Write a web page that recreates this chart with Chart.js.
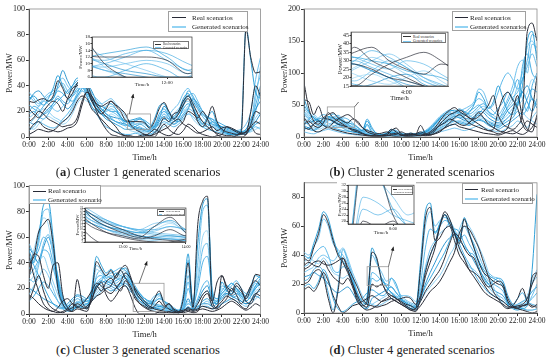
<!DOCTYPE html>
<html><head><meta charset="utf-8">
<script src="https://cdn.jsdelivr.net/npm/chart.js@4.4.0/dist/chart.umd.min.js"></script>
<style>
html,body{margin:0;padding:0;background:#fff;}
#root{position:relative;width:550px;height:361px;overflow:hidden;font-family:'Liberation Serif',serif;color:#222;}
canvas{position:absolute;}
.cap{position:absolute;font-size:12.5px;white-space:nowrap;transform:translate(-50%,-50%);}
.leg{position:absolute;border:1px solid #a0a0a0;background:#fff;box-sizing:border-box;}
.leg .row{display:flex;align-items:center;white-space:nowrap;}
.leg .ln{flex:none;}
.ileg{position:absolute;border:0.5px solid #777;background:#fff;box-sizing:border-box;}
.ileg .row{display:flex;align-items:center;white-space:nowrap;}
</style>
</head><body>
<div id="root">
  <canvas id="ca" width="270" height="165" style="left:0;top:0"></canvas>
  <canvas id="cb" width="275" height="165" style="left:275px;top:0"></canvas>
  <canvas id="cc" width="270" height="165" style="left:0;top:177px"></canvas>
  <canvas id="cd" width="275" height="164" style="left:275px;top:177px"></canvas>
  <canvas id="ia" width="116" height="55" style="left:78px;top:33px"></canvas>
  <canvas id="ib" width="115" height="74" style="left:336px;top:28px"></canvas>
  <canvas id="ic" width="116" height="47" style="left:75px;top:205px"></canvas>
  <canvas id="id" width="79" height="54" style="left:337px;top:182px"></canvas>

  <div class="leg" style="left:168px;top:11px;width:80px;height:21px;font-size:7px;padding:1px 0 0 3px">
    <div class="row" style="height:9px"><span class="ln" style="width:14px;border-top:1.3px solid #272a36;margin-right:6px"></span>Real scenarios</div>
    <div class="row" style="height:9px"><span class="ln" style="width:14px;border-top:2.5px solid #93d3f3;margin-right:6px"></span>Generated scenarios</div>
  </div>
  <div class="leg" style="left:452px;top:11px;width:74px;height:20px;font-size:7px;padding:1px 0 0 2px">
    <div class="row" style="height:9px"><span class="ln" style="width:13px;border-top:1.3px solid #272a36;margin-right:2px"></span>Real scenarios</div>
    <div class="row" style="height:9px"><span class="ln" style="width:13px;border-top:2.5px solid #93d3f3;margin-right:2px"></span>Generated scenarios</div>
  </div>
  <div class="leg" style="left:29px;top:185px;width:72px;height:19px;font-size:7px;padding:1px 0 0 3px">
    <div class="row" style="height:8.5px"><span class="ln" style="width:13px;border-top:1.3px solid #272a36;margin-right:2px"></span>Real scenario</div>
    <div class="row" style="height:8.5px"><span class="ln" style="width:13px;border-top:2.5px solid #93d3f3;margin-right:2px"></span>Generated scenario</div>
  </div>
  <div class="leg" style="left:462px;top:183px;width:71px;height:21px;font-size:7px;padding:1px 0 0 2px">
    <div class="row" style="height:9px"><span class="ln" style="width:13px;border-top:1.3px solid #272a36;margin-right:3px"></span>Real scenario</div>
    <div class="row" style="height:9px"><span class="ln" style="width:13px;border-top:2.5px solid #93d3f3;margin-right:3px"></span>Generated scenario</div>
  </div>

  <div class="ileg" style="left:153px;top:41px;width:36px;height:8px;font-size:3px;padding:0.5px 0 0 1px">
    <div class="row" style="height:3.5px"><span style="width:6px;border-top:0.5px solid #333;margin-right:2px"></span>Real scenarios</div>
    <div class="row" style="height:3.5px"><span style="width:6px;border-top:0.6px solid #7cc8f0;margin-right:2px"></span>Generated scenarios</div>
  </div>
  <div class="ileg" style="left:401px;top:33px;width:45px;height:10px;font-size:3.6px;padding:0.5px 0 0 1px">
    <div class="row" style="height:4.5px"><span style="width:8px;border-top:0.6px solid #333;margin-right:2px"></span>Real scenarios</div>
    <div class="row" style="height:4.5px"><span style="width:8px;border-top:0.7px solid #7cc8f0;margin-right:2px"></span>Generated scenarios</div>
  </div>
  <div class="ileg" style="left:157px;top:209px;width:28px;height:7px;font-size:2.6px;padding:0.3px 0 0 1px">
    <div class="row" style="height:3px"><span style="width:5px;border-top:0.5px solid #333;margin-right:2px"></span>Real scenario</div>
    <div class="row" style="height:3px"><span style="width:5px;border-top:0.6px solid #7cc8f0;margin-right:2px"></span>Generated scenario</div>
  </div>
  <div class="ileg" style="left:391px;top:186px;width:22px;height:9px;font-size:2.5px;padding:0.5px 0 0 1px">
    <div class="row" style="height:3.5px"><span style="width:5px;border-top:0.5px solid #333;margin-right:1px"></span>Real scenario</div>
    <div class="row" style="height:3.5px"><span style="width:5px;border-top:0.6px solid #7cc8f0;margin-right:1px"></span>Generated scenario</div>
  </div>

  <div class="cap" style="left:138px;top:172px">(<b>a</b>) Cluster 1 generated scenarios</div>
  <div class="cap" style="left:412px;top:172px">(<b>b</b>) Cluster 2 generated scenarios</div>
  <div class="cap" style="left:138px;top:350px">(<b>c</b>) Cluster 3 generated scenarios</div>
  <div class="cap" style="left:412px;top:350px">(<b>d</b>) Cluster 4 generated scenarios</div>
</div>
<script>
// ---------------- DATA ----------------
const hours = [0,0.5,1,1.5,2,2.5,3,3.5,4,4.5,5,5.5,6,6.5,7,7.5,8,8.5,9,9.5,10,10.5,11,11.5,12,12.5,13,13.5,14,14.5,15,15.5,16,16.5,17,17.5,18,18.5,19,19.5,20,20.5,21,21.5,22,22.5,23,23.5,24];
const xTicks = [0,2,4,6,8,10,12,14,16,18,20,22,24];

// Cluster 1
const c1Real1 = [28,27,29,30,28,32,44,38,30,34,42,45,38,28,22,18,22,28,24,20,13,12,12,12,11,7,12,22,27,20,14,18,25,30,22,12,8,14,24,12,6,4,3,2,3,84,62,50,51];
const c1Real2 = [5,10,12,8,6,5,4,5,7,8,12,25,35,30,20,12,6,2,1,0,0,0,0,0,0,0,0,5,10,6,3,2,5,10,8,4,2,1,0,1,2,8,7,5,3,2,10,20,18];
const c1Real3 = [22,18,15,20,25,28,26,20,30,38,40,44,42,32,25,20,16,12,8,3,1,0,0,1,2,1,3,8,15,12,18,20,28,32,26,18,12,8,5,3,2,1,1,0,0,2,20,40,32];
const c1Real4 = [12,15,20,18,14,12,10,8,9,10,15,28,35,32,26,24,26,28,25,22,18,10,6,4,2,1,2,4,6,8,12,14,10,8,5,3,4,6,8,5,7,8,6,4,2,4,8,12,10];
const c1Real5 = [2,4,6,5,4,5,8,12,15,20,28,32,30,22,18,14,10,6,4,2,1,1,0,0,1,3,6,4,2,1,3,8,12,20,18,15,20,14,6,2,0,0,0,1,3,4,8,3,2];
const c1Gen1 = [30,32,28,25,30,38,48,40,34,40,46,44,36,28,22,20,24,26,22,16,12,13,14,15,12,8,14,24,26,18,15,20,30,34,24,14,10,15,20,10,5,3,2,2,6,86,60,35,30];
const c1Gen2 = [35,30,26,30,34,36,42,46,40,36,40,48,44,34,30,26,22,20,18,14,10,8,6,5,4,6,10,16,20,18,22,26,34,38,30,24,18,14,10,8,6,5,4,5,6,10,20,45,62];
const c1Gen3 = [20,24,22,18,20,26,32,28,26,32,38,40,34,28,24,22,18,15,12,10,9,10,12,14,11,8,7,12,18,14,10,12,18,22,20,16,12,10,8,6,4,3,2,3,4,6,12,25,40];
const c1Gen4 = [10,14,18,22,20,16,14,12,15,22,30,36,38,30,22,18,20,24,22,18,14,9,6,4,3,4,6,10,14,16,18,22,26,28,22,20,16,12,9,7,5,4,3,2,2,3,8,15,20];
const c1Gen5 = [25,22,20,24,28,30,36,34,30,28,34,42,40,30,24,18,14,12,10,8,6,6,8,10,8,5,8,18,22,16,12,15,22,26,22,16,10,8,12,10,8,6,5,4,3,4,6,10,12];
const c1Gen6 = [15,18,24,28,26,22,20,24,28,34,36,38,36,32,28,26,28,30,26,22,16,12,10,8,6,5,4,6,10,12,14,16,20,24,26,22,18,14,10,8,6,5,4,3,4,5,10,30,55];
const c1Gen7 = [5,8,12,10,8,7,9,14,18,24,32,36,32,24,18,12,8,6,4,3,2,2,3,2,1,2,4,8,12,10,8,10,14,18,16,12,8,6,5,4,3,2,2,1,2,3,5,8,6];
const c1Gen8 = [28,34,36,32,28,30,40,52,44,38,42,40,32,24,20,18,16,14,12,11,10,8,7,6,5,4,6,12,16,14,16,20,28,32,28,22,16,12,10,9,8,7,6,5,4,6,14,22,28];
const c1Gen9 = [8,6,10,14,16,14,12,10,12,18,26,30,28,26,22,18,16,18,16,12,8,5,4,3,2,2,3,5,8,10,12,14,18,20,14,10,8,10,12,8,4,3,3,2,2,3,4,6,8];
const c1Gen10 = [18,20,16,14,18,24,28,32,36,40,44,46,40,30,26,24,22,20,20,16,12,11,13,14,13,10,8,10,14,12,10,14,24,36,32,24,18,15,14,12,10,8,6,5,4,5,8,20,35];
const c1Gen11 = [32,28,24,28,32,34,38,42,36,32,36,40,38,30,26,22,20,22,20,15,10,9,10,11,10,7,9,15,20,16,14,18,26,32,34,28,20,16,14,10,7,5,4,3,3,5,10,35,48];
const c1Gen12 = [12,10,14,18,22,26,30,26,22,26,32,38,42,36,28,22,18,16,15,14,12,10,8,7,6,6,8,14,24,20,14,12,16,22,30,26,20,16,12,9,6,4,3,3,2,3,6,12,18];

// Cluster 2
const c2Real1 = [85,45,25,20,30,35,38,30,25,22,28,25,15,8,5,3,2,3,10,14,5,3,4,5,8,5,8,15,25,35,42,46,40,35,30,28,32,40,50,65,35,20,15,12,18,40,165,178,150];
const c2Real2 = [58,55,35,48,30,28,25,20,18,15,12,10,6,3,2,2,3,5,12,8,3,2,3,4,18,6,4,10,20,28,35,38,42,38,30,25,20,15,10,12,40,62,70,58,45,20,10,40,95];
const c2Real3 = [20,25,18,15,22,38,30,25,20,15,10,8,5,3,2,1,1,2,4,6,3,1,1,2,3,2,3,5,8,15,22,30,35,30,22,18,15,12,10,8,5,8,15,40,65,30,12,8,35];
const c2Real4 = [15,12,20,25,18,15,22,28,32,35,30,22,15,10,8,5,6,8,5,4,8,5,3,4,5,3,6,12,18,22,28,25,20,18,22,30,38,30,20,15,10,8,6,5,8,15,25,20,15];
const c2Real5 = [30,20,10,8,12,15,12,10,8,6,5,4,3,2,1,1,2,3,2,1,2,4,6,3,2,4,3,6,10,14,18,20,16,14,12,10,8,6,5,4,3,5,8,10,6,4,8,15,30];
const c2Gen1 = [60,40,30,25,28,32,30,28,24,22,20,15,10,25,12,6,4,5,8,6,4,3,5,4,6,8,12,20,30,36,40,42,38,34,38,50,70,60,45,55,80,60,40,35,50,80,150,165,120];
const c2Gen2 = [45,35,28,22,20,25,30,34,28,20,15,12,8,5,4,3,2,4,6,5,3,2,2,3,4,6,10,15,22,28,32,36,40,44,48,55,75,70,50,40,35,45,60,80,110,120,100,145,140];
const c2Gen3 = [35,28,22,18,24,30,26,22,18,15,12,9,6,4,3,2,3,6,8,5,4,3,3,5,6,8,14,20,28,32,38,34,30,32,40,45,50,42,35,30,28,40,55,70,90,60,40,80,100];
const c2Gen4 = [25,18,15,20,26,22,18,16,20,24,18,12,8,6,4,3,2,3,4,3,2,2,3,2,3,5,8,12,16,20,25,28,32,28,25,30,35,30,25,22,20,28,35,45,55,40,30,25,20];
const c2Gen5 = [15,12,10,14,18,16,14,12,10,9,8,7,5,20,8,3,2,2,3,2,2,1,2,2,3,4,6,10,14,18,22,25,22,20,18,22,28,25,20,18,15,20,25,30,40,35,45,60,50];
const c2Gen6 = [8,6,5,8,10,12,10,8,6,5,4,3,3,2,2,1,1,2,2,1,1,1,1,1,2,3,4,6,8,10,12,14,12,10,12,15,18,15,12,10,8,10,14,18,25,20,15,30,40];
const c2Gen7 = [40,32,25,30,35,32,28,25,30,28,22,16,10,8,6,4,3,5,10,8,5,4,4,5,7,10,16,24,32,38,42,40,36,38,44,52,60,55,45,50,70,90,100,90,75,90,120,160,155];
const c2Gen8 = [20,22,25,28,30,28,24,20,16,14,12,10,7,5,3,2,2,3,5,4,3,2,2,3,4,6,9,14,18,22,26,30,34,30,28,32,40,38,30,25,22,30,42,50,60,70,55,40,60];
const c2Gen9 = [30,25,18,12,15,20,22,18,14,12,10,8,6,4,3,2,2,2,3,3,2,2,2,2,3,4,6,9,12,16,20,24,26,24,22,26,30,28,22,18,16,22,30,38,48,58,70,90,80];
const c2Gen10 = [50,38,30,26,24,30,36,32,26,20,16,12,10,28,15,5,4,6,12,10,6,5,6,5,6,9,14,22,30,34,36,38,42,40,36,40,48,52,40,35,45,55,70,60,50,110,130,100,90];
const c2Gen11 = [22,28,32,26,20,18,24,30,26,18,14,10,8,18,6,3,2,3,6,4,2,2,4,3,5,7,12,18,26,30,34,38,44,40,34,30,36,44,38,30,26,34,48,62,70,90,110,130,110];
const c2Gen12 = [12,15,20,24,18,14,16,20,22,16,12,8,6,4,3,2,1,2,4,3,2,1,2,3,4,5,8,12,18,24,28,32,30,26,24,28,34,30,24,20,18,24,30,40,55,70,80,60,45];
const c2Gen13 = [38,30,35,28,22,26,32,28,22,18,14,11,8,6,5,3,3,4,7,6,4,3,3,4,5,7,10,16,22,26,30,34,38,36,32,36,44,48,40,34,30,36,46,56,80,100,140,150,130];
const c2Gen14 = [18,14,12,16,22,28,24,20,14,10,8,6,5,12,4,2,1,1,2,2,1,1,1,2,2,3,5,8,12,15,18,20,24,22,20,24,26,24,18,15,12,16,20,26,32,40,60,75,70];

// Cluster 3
const c3Real1 = [40,45,64,70,74,55,20,8,3,2,4,3,2,15,41,35,30,34,28,35,38,30,18,12,8,5,12,18,8,4,2,1,12,40,5,70,88,92,10,5,30,20,15,22,18,12,20,31,30];
const c3Real2 = [28,47,45,30,20,38,40,15,5,2,27,10,5,10,22,18,25,28,22,18,26,20,12,8,6,4,6,10,6,8,3,1,2,5,3,8,15,18,10,25,30,22,18,24,20,10,8,15,20];
const c3Real3 = [10,20,30,18,8,4,2,1,3,5,8,6,4,12,20,25,15,10,14,20,22,15,5,0,0,0,0,2,4,8,4,2,1,2,1,2,12,16,6,4,8,12,20,15,8,14,22,26,22];
const c3Real4 = [45,30,18,8,4,2,5,10,12,8,5,8,12,18,24,22,18,16,20,25,32,28,20,14,10,6,4,3,2,1,1,2,3,4,3,4,6,5,4,6,10,14,12,10,6,4,10,16,14];
const c3Real5 = [15,12,8,5,3,2,1,2,4,8,6,4,6,10,14,16,20,22,30,34,28,22,14,8,5,3,2,1,1,2,1,1,2,3,2,3,4,3,2,3,5,8,10,8,5,3,5,8,6];
const c3Gen1 = [50,40,60,85,88,60,25,8,4,3,6,5,4,20,45,38,32,35,30,34,36,28,18,12,10,8,12,16,10,6,3,2,15,47,8,55,85,90,15,8,25,18,16,20,16,14,22,30,28];
const c3Gen2 = [55,48,55,80,82,50,20,6,3,5,10,8,6,18,38,34,28,30,26,30,32,26,20,15,12,10,14,15,8,5,3,2,10,42,10,40,80,85,20,10,22,20,18,16,14,12,18,24,22];
const c3Gen3 = [35,42,50,60,55,40,25,12,6,8,12,10,8,14,28,30,26,24,26,28,30,24,18,14,12,10,10,12,10,8,5,3,4,20,8,20,40,45,18,12,18,22,20,18,12,10,14,20,25];
const c3Gen4 = [25,30,40,45,35,25,15,8,5,6,8,12,10,12,18,22,24,26,28,26,24,20,16,12,10,8,6,5,4,3,2,2,3,10,5,8,15,18,10,8,12,15,18,22,18,14,12,18,20];
const c3Gen5 = [45,38,30,22,14,8,5,4,6,10,14,12,10,14,20,26,30,28,32,30,28,24,20,16,12,9,7,6,5,4,3,3,4,8,6,6,10,12,8,10,16,20,24,20,14,10,14,22,28];
const c3Gen6 = [15,22,28,35,30,20,10,4,2,3,5,6,8,10,16,20,22,20,18,22,26,22,16,10,6,4,3,4,3,2,1,1,2,6,3,5,8,10,6,5,8,10,12,10,8,6,8,12,15];
const c3Gen7 = [30,35,42,50,48,36,22,10,5,4,8,10,12,16,24,28,30,32,34,36,34,28,22,16,12,10,8,7,6,4,3,2,6,25,6,12,22,26,12,10,14,18,22,26,20,16,20,26,30];
const c3Gen8 = [20,18,15,12,10,8,6,5,8,12,15,14,12,15,22,24,26,24,22,24,22,18,14,10,8,6,5,4,3,3,2,2,3,5,4,5,8,8,6,8,12,16,14,12,10,8,10,14,12];
const c3Gen9 = [40,50,65,75,70,45,18,6,3,4,7,6,5,15,35,32,28,30,28,32,34,26,18,12,9,7,10,14,9,5,3,2,8,35,6,30,60,65,14,10,20,18,16,18,14,12,16,22,20];
const c3Gen10 = [10,14,20,25,22,16,10,6,4,6,9,8,7,10,14,18,20,18,20,22,24,20,14,10,7,5,4,4,3,2,2,1,2,4,3,4,6,6,4,5,8,10,12,14,10,8,10,16,18];
const c3Gen11 = [28,25,38,55,62,48,30,14,6,4,5,7,8,14,30,34,28,26,24,27,30,26,20,14,10,8,9,12,10,7,4,2,5,30,6,25,50,55,16,12,16,20,24,20,16,12,16,22,26];
const c3Gen12 = [52,46,40,52,60,48,28,12,5,4,6,9,10,12,22,26,24,22,20,24,28,24,16,12,9,6,5,6,5,4,3,2,3,12,4,10,18,22,10,8,14,16,14,16,14,12,16,20,24];

// Cluster 4
const c4Real1 = [38,36,45,55,68,62,50,40,35,28,20,10,5,8,42,38,22,15,12,10,8,6,5,3,30,65,73,50,60,68,62,55,48,65,55,45,35,28,25,22,20,18,8,4,3,5,6,4,6];
const c4Real2 = [20,22,28,30,25,10,0,15,38,30,20,12,6,4,20,18,20,14,10,8,6,4,2,1,10,25,35,45,60,70,65,55,45,38,30,25,20,15,12,10,8,6,4,5,10,17,8,5,4];
const c4Real3 = [33,35,33,32,36,30,25,22,20,24,18,8,4,2,3,5,8,10,12,10,7,5,3,2,5,10,15,18,22,28,35,42,55,60,58,52,45,35,25,15,10,5,3,4,5,6,10,20,28];
const c4Real4 = [16,18,15,20,28,22,12,5,0,2,5,6,8,10,12,10,8,9,10,8,6,4,2,3,8,15,20,25,30,38,48,55,52,45,40,38,30,22,18,20,22,20,10,5,3,2,1,0,1];
const c4Real5 = [30,32,35,36,34,33,34,36,38,32,25,18,10,6,5,4,5,6,8,9,10,11,10,6,12,28,40,48,52,58,60,50,40,35,30,28,25,20,15,12,10,8,5,4,4,5,6,25,28];
const c4Gen1 = [40,38,48,58,70,65,52,42,36,30,22,12,6,10,45,36,24,18,14,11,9,7,5,4,35,70,76,55,62,68,60,56,50,66,56,46,36,30,26,24,22,18,6,3,2,3,5,30,82];
const c4Gen2 = [42,40,46,52,65,60,48,44,40,34,26,14,8,12,40,34,28,22,24,18,12,9,7,6,28,60,70,60,64,66,64,58,52,60,54,48,40,32,28,25,24,20,8,4,3,4,6,12,20];
const c4Gen3 = [22,24,30,32,28,14,2,18,44,36,24,14,8,6,24,22,24,18,14,10,8,5,3,2,14,30,40,48,62,68,64,56,48,40,34,28,22,18,14,12,10,8,6,6,10,14,8,6,5];
const c4Gen4 = [35,38,36,34,38,34,28,26,24,26,20,10,5,4,6,8,10,12,14,12,9,6,4,3,8,14,18,22,26,32,40,46,58,64,60,54,46,38,28,18,12,6,4,5,6,7,12,22,30];
const c4Gen5 = [18,20,17,22,30,24,10,3,1,3,6,8,10,14,16,14,12,14,24,20,10,5,3,4,10,18,24,30,36,42,50,58,56,48,42,40,32,24,20,22,24,22,12,6,4,3,2,2,3];
const c4Gen6 = [28,30,32,38,40,38,36,40,45,38,28,20,12,8,6,5,6,8,10,11,12,12,11,8,16,32,44,50,55,58,62,54,44,38,32,30,26,22,18,14,12,10,6,5,5,6,8,20,25];
const c4Gen7 = [32,34,40,44,46,40,30,28,32,30,22,14,8,6,28,26,22,20,18,14,10,8,6,5,20,45,58,56,60,64,62,56,50,54,48,42,36,28,22,20,18,15,8,5,4,5,7,10,14];
const c4Gen8 = [25,26,28,26,24,20,16,14,16,18,14,8,4,3,10,12,14,16,18,14,10,7,5,4,10,20,28,35,42,48,52,54,50,46,42,36,30,25,20,16,14,12,7,5,6,8,10,15,18];

// axis ranges / ticks
const c1YTicks = [0,20,40,60,80,100];
const c2YTicks = [0,50,100,150,200];
const c3YTicks = [0,20,40,60,80,100];
const c4YTicks = [0,20,40,60,80];
// inset windows
const in1X = [10.2,12.6], in1Y = [6,18], in1XT = [12], in1YT = [6,8,10,12,14,16,18];
const in2X = [2.4,5.2],  in2Y = [15,47], in2XT = [4], in2YT = [15,20,25,30,35,40,45];
const in3X = [10.8,14.0], in3Y = [2,24], in3XT = [12,14], in3YT = [2,4,6,8,10,12,14,16,18,20,22,24];
const in4X = [6.5,8.7],  in4Y = [19,32], in4XT = [8], in4YT = [20,22,24,26,28,30,32];

// ---------------- RENDER ----------------
const SERIF = "'Liberation Serif', 'Times New Roman', serif";
const REAL = '#2a2d38';
const BLUES = ['#1a96d4','#5fb9ea','#3fa9e2','#80c9f0','#2aa0dc','#6cc0ed','#4ab0e6','#1b8dcc','#93d2f3','#35a4df','#56b6e8','#0f86c8','#74c4ee','#2c9bd9'];

function mk(arr, real, i, w) {
  return {data: arr.map((v,k)=>({x:hours[k], y:v})),
    borderColor: real ? REAL : BLUES[i % BLUES.length],
    borderWidth: w * (real ? 1.0 : 0.9), pointRadius: 0,
    tension: 0.4, cubicInterpolationMode: 'monotone', fill: false};
}
function sets(real, gen, w) {
  return real.map((a,i)=>mk(a,true,i,w)).concat(gen.map((a,i)=>mk(a,false,i,w)));
}

const framePlugin = {
  id: 'frame',
  beforeDraw(chart, a, o) {
    if (o.bg) { const c = chart.ctx; c.save(); c.fillStyle = '#fff'; c.fillRect(0,0,chart.width,chart.height); c.restore(); }
  },
  afterDatasetsDraw(chart, a, o) {
    const {ctx, chartArea: ca} = chart;
    ctx.save(); ctx.strokeStyle = o.color || '#888'; ctx.lineWidth = o.width || 0.8;
    ctx.strokeRect(ca.left, ca.top, ca.right - ca.left, ca.bottom - ca.top);
    ctx.restore();
    if (o.box) {
      const x = chart.scales.x, y = chart.scales.y, b = o.box;
      const l = x.getPixelForValue(b.x[0]), r = x.getPixelForValue(b.x[1]);
      const t = y.getPixelForValue(b.y[1]), bt = y.getPixelForValue(b.y[0]);
      ctx.save(); ctx.strokeStyle = '#9a9a9a'; ctx.lineWidth = 0.8;
      ctx.strokeRect(l, t, r - l, bt - t);
      const sx = (b.corner === 'r' ? r : l) + b.ax[0], sy = t + b.ax[1];
      const ex = sx + b.ax[2], ey = sy + b.ax[3];
      ctx.strokeStyle = '#333'; ctx.lineWidth = 0.7;
      ctx.beginPath(); ctx.moveTo(sx, sy); ctx.lineTo(ex, ey); ctx.stroke();
      const ang = Math.atan2(ey - sy, ex - sx);
      ctx.fillStyle = '#222'; ctx.beginPath();
      ctx.moveTo(ex, ey);
      ctx.lineTo(ex - 4*Math.cos(ang) + 1.8*Math.sin(ang), ey - 4*Math.sin(ang) - 1.8*Math.cos(ang));
      ctx.lineTo(ex - 4*Math.cos(ang) - 1.8*Math.sin(ang), ey - 4*Math.sin(ang) + 1.8*Math.cos(ang));
      ctx.closePath(); ctx.fill(); ctx.restore();
    }
  }
};
Chart.register(framePlugin);

function mainChart(id, P) {
  new Chart(document.getElementById(id), {
    type: 'line',
    data: {datasets: sets(P.real, P.gen, 1)},
    options: {
      animation: false, responsive: false, devicePixelRatio: 1,
      layout: {padding: {top: P.pt, right: P.pr, left: 0, bottom: 0}},
      plugins: {legend: {display: false}, tooltip: {enabled: false},
        frame: {color: '#8c8c8c', width: 0.8, box: P.box}},
      scales: {
        x: {type: 'linear', min: 0, max: 24,
          afterBuildTicks: s => { s.ticks = xTicks.map(v => ({value: v})); },
          ticks: {callback: v => v + ':00', autoSkip: false, maxRotation: 0, minRotation: 0,
            font: {family: SERIF, size: 7.5}, color: '#222', padding: 1},
          grid: {drawOnChartArea: false, tickLength: 3, tickColor: '#333'},
          border: {color: '#333', width: 1},
          title: {display: true, text: 'Time/h', font: {family: SERIF, size: 8.5}, color: '#222', padding: {top: 0, bottom: 2}},
          afterFit: s => { s.height = 28; }},
        y: {min: 0, max: P.ymax,
          afterBuildTicks: s => { s.ticks = P.yt.map(v => ({value: v})); },
          ticks: {autoSkip: false, font: {family: SERIF, size: 8}, color: '#222', padding: 1},
          grid: {drawOnChartArea: false, tickLength: 3, tickColor: '#333'},
          border: {color: '#333', width: 1},
          title: {display: true, text: 'Power/MW', font: {family: SERIF, size: 8.5}, color: '#222', padding: {top: 5, bottom: 0}},
          afterFit: s => { s.width = 29; }}
      }
    }
  });
}

function insetChart(id, P) {
  new Chart(document.getElementById(id), {
    type: 'line',
    data: {datasets: sets(P.real, P.gen, 0.7)},
    options: {
      animation: false, responsive: false, devicePixelRatio: 1,
      layout: {padding: {top: P.pt, right: P.pr, left: 0, bottom: 0}},
      plugins: {legend: {display: false}, tooltip: {enabled: false}, frame: {color: '#333', width: 0.7, bg: true}},
      scales: {
        x: {type: 'linear', min: P.x[0], max: P.x[1],
          afterBuildTicks: s => { s.ticks = P.xt.map(v => ({value: v})); },
          ticks: {callback: v => v + ':00', autoSkip: false, maxRotation: 0, font: {family: SERIF, size: P.fs}, color: '#222', padding: 0.5},
          grid: {drawOnChartArea: false, tickLength: 2, tickColor: '#333'},
          border: {color: '#333', width: 0.7},
          title: {display: true, text: 'Time/h', font: {family: SERIF, size: P.ft}, color: '#222', padding: {top: 0, bottom: 0}},
          afterFit: s => { s.height = P.xh; }},
        y: {min: P.y[0], max: P.y[1],
          afterBuildTicks: s => { s.ticks = P.yt.map(v => ({value: v})); },
          ticks: {autoSkip: false, font: {family: SERIF, size: P.fsy || P.fs}, color: '#222', padding: 0.5},
          grid: {drawOnChartArea: false, tickLength: 1.5, tickColor: '#333'},
          border: {color: '#333', width: 0.7},
          title: {display: true, text: 'Power/MW', font: {family: SERIF, size: P.ft}, color: '#222', padding: {top: 0, bottom: 0}},
          afterFit: s => { s.width = P.yw; }}
      }
    }
  });
}

const c1R = [c1Real1,c1Real2,c1Real3,c1Real4,c1Real5];
const c1G = [c1Gen1,c1Gen2,c1Gen3,c1Gen4,c1Gen5,c1Gen6,c1Gen7,c1Gen8,c1Gen9,c1Gen10,c1Gen11,c1Gen12];
const c2R = [c2Real1,c2Real2,c2Real3,c2Real4,c2Real5];
const c2G = [c2Gen1,c2Gen2,c2Gen3,c2Gen4,c2Gen5,c2Gen6,c2Gen7,c2Gen8,c2Gen9,c2Gen10,c2Gen11,c2Gen12,c2Gen13,c2Gen14];
const c3R = [c3Real1,c3Real2,c3Real3,c3Real4,c3Real5];
const c3G = [c3Gen1,c3Gen2,c3Gen3,c3Gen4,c3Gen5,c3Gen6,c3Gen7,c3Gen8,c3Gen9,c3Gen10,c3Gen11,c3Gen12];
const c4R = [c4Real1,c4Real2,c4Real3,c4Real4,c4Real5];
const c4G = [c4Gen1,c4Gen2,c4Gen3,c4Gen4,c4Gen5,c4Gen6,c4Gen7,c4Gen8];

mainChart('ca', {real: c1R, gen: c1G, ymax: 100, yt: c1YTicks, pt: 9, pr: 4,
  box: {x: in1X, y: in1Y, corner: 'l', ax: [2, 0, 4, -20]}});
mainChart('cb', {real: c2R, gen: c2G, ymax: 200, yt: c2YTicks, pt: 9, pr: 13,
  box: {x: in2X, y: in2Y, corner: 'r', ax: [0, 0, 11, -13]}});
mainChart('cc', {real: c3R, gen: c3G, ymax: 100, yt: c3YTicks, pt: 9, pr: 8,
  box: {x: in3X, y: in3Y, corner: 'l', ax: [6, 0, 8, -22]}});
mainChart('cd', {real: c4R, gen: c4G, ymax: 90, yt: c4YTicks, pt: 5, pr: 13,
  box: {x: in4X, y: in4Y, corner: 'r', ax: [0, 0, 5, -20]}});

insetChart('ia', {real: c1R, gen: c1G, x: in1X, y: in1Y, xt: in1XT, yt: in1YT, pt: 4, pr: 2, xh: 11, yw: 14, fs: 5, ft: 5});
insetChart('ib', {real: c2R, gen: c2G, x: in2X, y: in2Y, xt: in2XT, yt: in2YT, pt: 4, pr: 3, xh: 16, yw: 15, fs: 6, ft: 6.5});
insetChart('ic', {real: c3R, gen: c3G, x: in3X, y: in3Y, xt: in3XT, yt: in3YT, pt: 3, pr: 4, xh: 10, yw: 10, fs: 4, fsy: 3, ft: 4.5});
insetChart('id', {real: c4R, gen: c4G, x: in4X, y: in4Y, xt: in4XT, yt: in4YT, pt: 3, pr: 2, xh: 12, yw: 11, fs: 4.5, ft: 5});
</script>
</body></html>
